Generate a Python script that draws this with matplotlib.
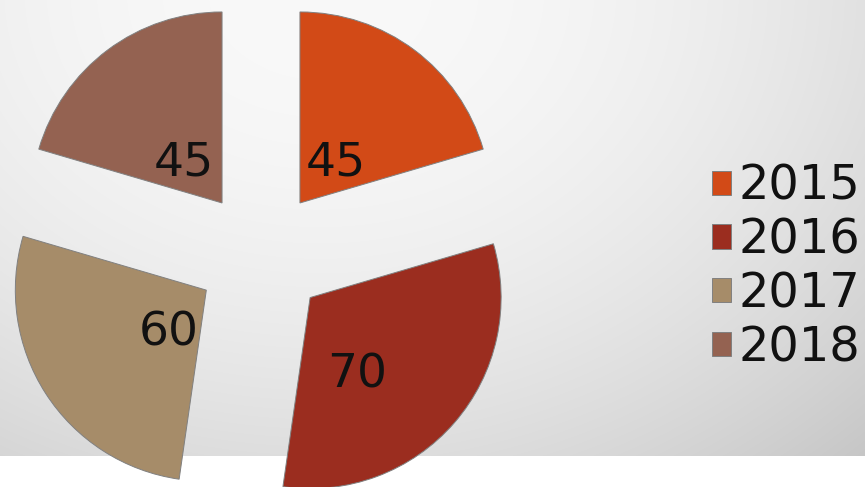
import numpy as np
import matplotlib
matplotlib.use("Agg")
import matplotlib.pyplot as plt
from matplotlib.transforms import offset_copy

years = ["2015", "2016", "2017", "2018"]
values = [45, 70, 60, 45]
colors = ["#d24a17", "#9b2d1f", "#a68c69", "#946251"]

W, H = 865, 487
fig = plt.figure(figsize=(W / 100, H / 100), dpi=100)
ax = fig.add_axes([0, 0, 1, 1])

# background gradient (grey panel, white strip below)
bg_bottom = 456
yy, xx = np.mgrid[0:bg_bottom, 0:W]
d2 = (xx - 320.0) ** 2 + (1.25 * (yy + 10.0)) ** 2
v = 249 - 8.0e-5 * d2
v = np.clip(v, 185, 250) / 255.0
img = np.dstack([v, v, v])
ax.imshow(img, extent=(0, W, H - bg_bottom, H), origin="upper", zorder=0, aspect="auto")

center = (261, H - 255)
radius = 191
explode = [65] * 4  # data units (pixels)
wedges, _ = ax.pie(values, colors=colors, startangle=90, counterclock=False,
                   center=center, radius=radius, explode=explode, frame=True,
                   wedgeprops=dict(edgecolor="#808080", linewidth=0.7, zorder=2))
ax.set_xlim(0, W)
ax.set_ylim(0, H)
ax.set_aspect("equal")
ax.axis("off")

# value labels positioned along each wedge's bisector
fracs = [0.32, 0.43, 0.26, 0.33]
ang_adj = [1, -14.4, 8.5, 1]
trans = offset_copy(ax.transData, fig=fig, x=0, y=-10, units="dots")
for w, val, f, da in zip(wedges, values, fracs, ang_adj):
    ang = np.deg2rad((w.theta1 + w.theta2) / 2 + da)
    cx, cy = w.center
    ax.text(cx + f * radius * np.cos(ang), cy + f * radius * np.sin(ang), str(val),
            ha="center", va="center", fontsize=34, color="#111111", zorder=3,
            transform=trans)

leg = ax.legend(wedges, years, loc="center left", bbox_to_anchor=(712 / W, 1 - 267 / H),
                frameon=False, fontsize=34.5, handlelength=0.4, handleheight=0.4,
                handletextpad=0.15, labelspacing=0.14, borderpad=0, borderaxespad=0)
for t in leg.get_texts():
    t.set_color("#111111")

fig.savefig("out.png", dpi=100)
